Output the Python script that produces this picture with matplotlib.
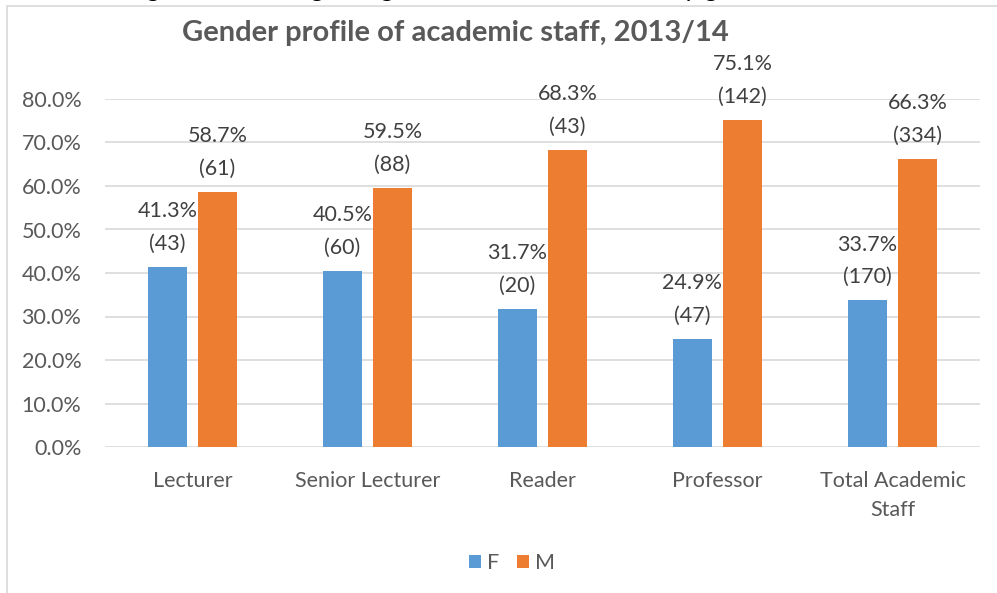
import matplotlib.pyplot as plt
import numpy as np
from matplotlib.patches import Rectangle

categories = ["Lecturer", "Senior Lecturer", "Reader", "Professor", "Total Academic\nStaff"]
female_pct = [41.3, 40.5, 31.7, 24.9, 33.7]
female_n = [43, 60, 20, 47, 170]
male_pct = [58.7, 59.5, 68.3, 75.1, 66.3]
male_n = [61, 88, 43, 142, 334]
y_ticks = [0, 10, 20, 30, 40, 50, 60, 70, 80]

plt.rcParams['font.family'] = ['Lato', 'DejaVu Sans']

W, H = 997, 593
fig = plt.figure(figsize=(W / 100, H / 100), dpi=100)

# outer chart border (only top and left visible in the crop)
fig.patches.append(Rectangle((7 / W, -0.1), 1.2, 1.1 - 6 / H, transform=fig.transFigure,
                             fill=False, edgecolor="#D9D9D9", lw=1.2))

# caption above the chart, cut off by the crop
fig.text(0.125, 1 + 4 / H, "Figure 3: Staffing and grades of academic staff by gender",
         fontsize=19, color="black", va="baseline", ha="left")

ax = fig.add_axes([105 / W, 1 - 447 / H, 875 / W, 348 / H])

x = np.arange(len(categories))
w = 0.223
off = 0.143
blue = "#5B9BD5"
orange = "#ED7D31"

bf = ax.bar(x - off, female_pct, w, color=blue, label="F", zorder=3)
bm = ax.bar(x + off, male_pct, w, color=orange, label="M", zorder=3)

for xs, vals, ns in [(x - off, female_pct, female_n), (x + off, male_pct, male_n)]:
    for xi, v, n in zip(xs, vals, ns):
        ax.text(xi, v + 3.0, f"{v:.1f}%\n({n})", ha="center", va="bottom",
                fontsize=15.5, color="#404040", linespacing=1.8, clip_on=False)

ax.set_xlim(-0.5, len(categories) - 0.5)
ax.set_ylim(0, 80)
ax.set_yticks(y_ticks)
ax.set_yticklabels([f"{t:.1f}%" for t in y_ticks])
ax.set_xticks(x)
ax.set_xticklabels(categories)
for lbl in ax.get_xticklabels():
    lbl.set_linespacing(1.6)
ax.tick_params(axis="both", length=0, labelsize=15.5, labelcolor="#595959")
ax.tick_params(axis="y", pad=17)
ax.tick_params(axis="x", pad=17)
ax.yaxis.grid(True, color="#D9D9D9", lw=1.2, zorder=0)
for s in ax.spines.values():
    s.set_visible(False)

fig.text(455 / W, 1 - 33 / H, "Gender profile of academic staff, 2013/14",
         ha="center", va="center", fontsize=21, fontweight="bold", color="#595959")

fig.legend(handles=[bf, bm], labels=["F", "M"], loc="center", bbox_to_anchor=(512 / W, 1 - 563 / H),
           ncol=2, frameon=False, fontsize=15.5, handlelength=0.55, handleheight=0.55,
           handletextpad=0.3, columnspacing=0.8, labelcolor="#595959")

fig.savefig("out.png", dpi=100, facecolor="white")
